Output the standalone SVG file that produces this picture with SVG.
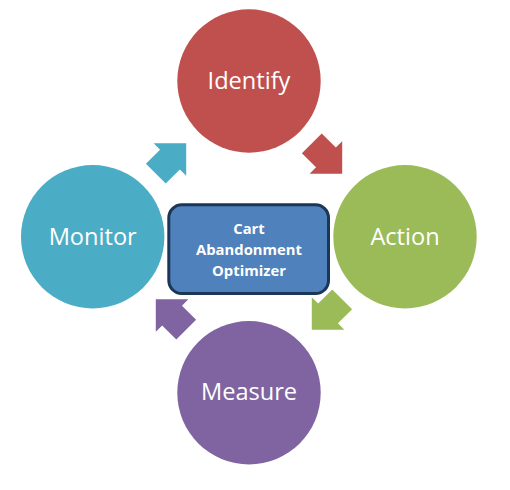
<svg xmlns="http://www.w3.org/2000/svg" width="510" height="490" viewBox="0 0 510 490">
  <defs>
    <style>
      .lbl { font-family: "Open Sans", "Liberation Sans", Arial, sans-serif; font-size: 23.6px; fill: #ffffff; text-anchor: middle; }
      .ctr { font-family: "Open Sans", "Liberation Sans", Arial, sans-serif; font-size: 14.8px; font-weight: bold; fill: #ffffff; text-anchor: middle; }
    </style>
    <path id="arw" d="M -21.5 -14 L -1.5 -14 L -1.5 -23 L 21.5 0 L -1.5 23 L -1.5 14 L -21.5 14 Z"/>
  </defs>
  <rect width="510" height="490" fill="#ffffff"/>
  <g id="connectors">
    <use href="#arw" fill="#c0504d" transform="translate(327 158.5) rotate(45)"/>
    <use href="#arw" fill="#9bbb59" transform="translate(327 314.5) rotate(135)"/>
    <use href="#arw" fill="#8064a2" transform="translate(171 314.5) rotate(225)"/>
    <use href="#arw" fill="#4bacc6" transform="translate(171 158.5) rotate(315)"/>
  </g>
  <g id="identify">
    <circle cx="249" cy="81" r="71.7" fill="#c0504d"/>
    <text class="lbl" x="249" y="88.5">Identify</text>
  </g>
  <g id="action">
    <circle cx="405" cy="236.7" r="71.7" fill="#9bbb59"/>
    <text class="lbl" x="405" y="244.5">Action</text>
  </g>
  <g id="measure">
    <circle cx="249" cy="392.7" r="71.7" fill="#8064a2"/>
    <text class="lbl" x="249" y="399.5">Measure</text>
  </g>
  <g id="monitor">
    <circle cx="92.7" cy="236.7" r="71.7" fill="#4bacc6"/>
    <text class="lbl" x="92.7" y="244.5">Monitor</text>
  </g>
  <g id="center">
    <rect x="168.8" y="204.8" width="159.7" height="88.7" rx="13" fill="#4f81bd" stroke="#1b3656" stroke-width="3"/>
    <text class="ctr" x="249" y="234">Cart</text>
    <text class="ctr" x="249" y="255">Abandonment</text>
    <text class="ctr" x="249" y="276">Optimizer</text>
  </g>
</svg>
